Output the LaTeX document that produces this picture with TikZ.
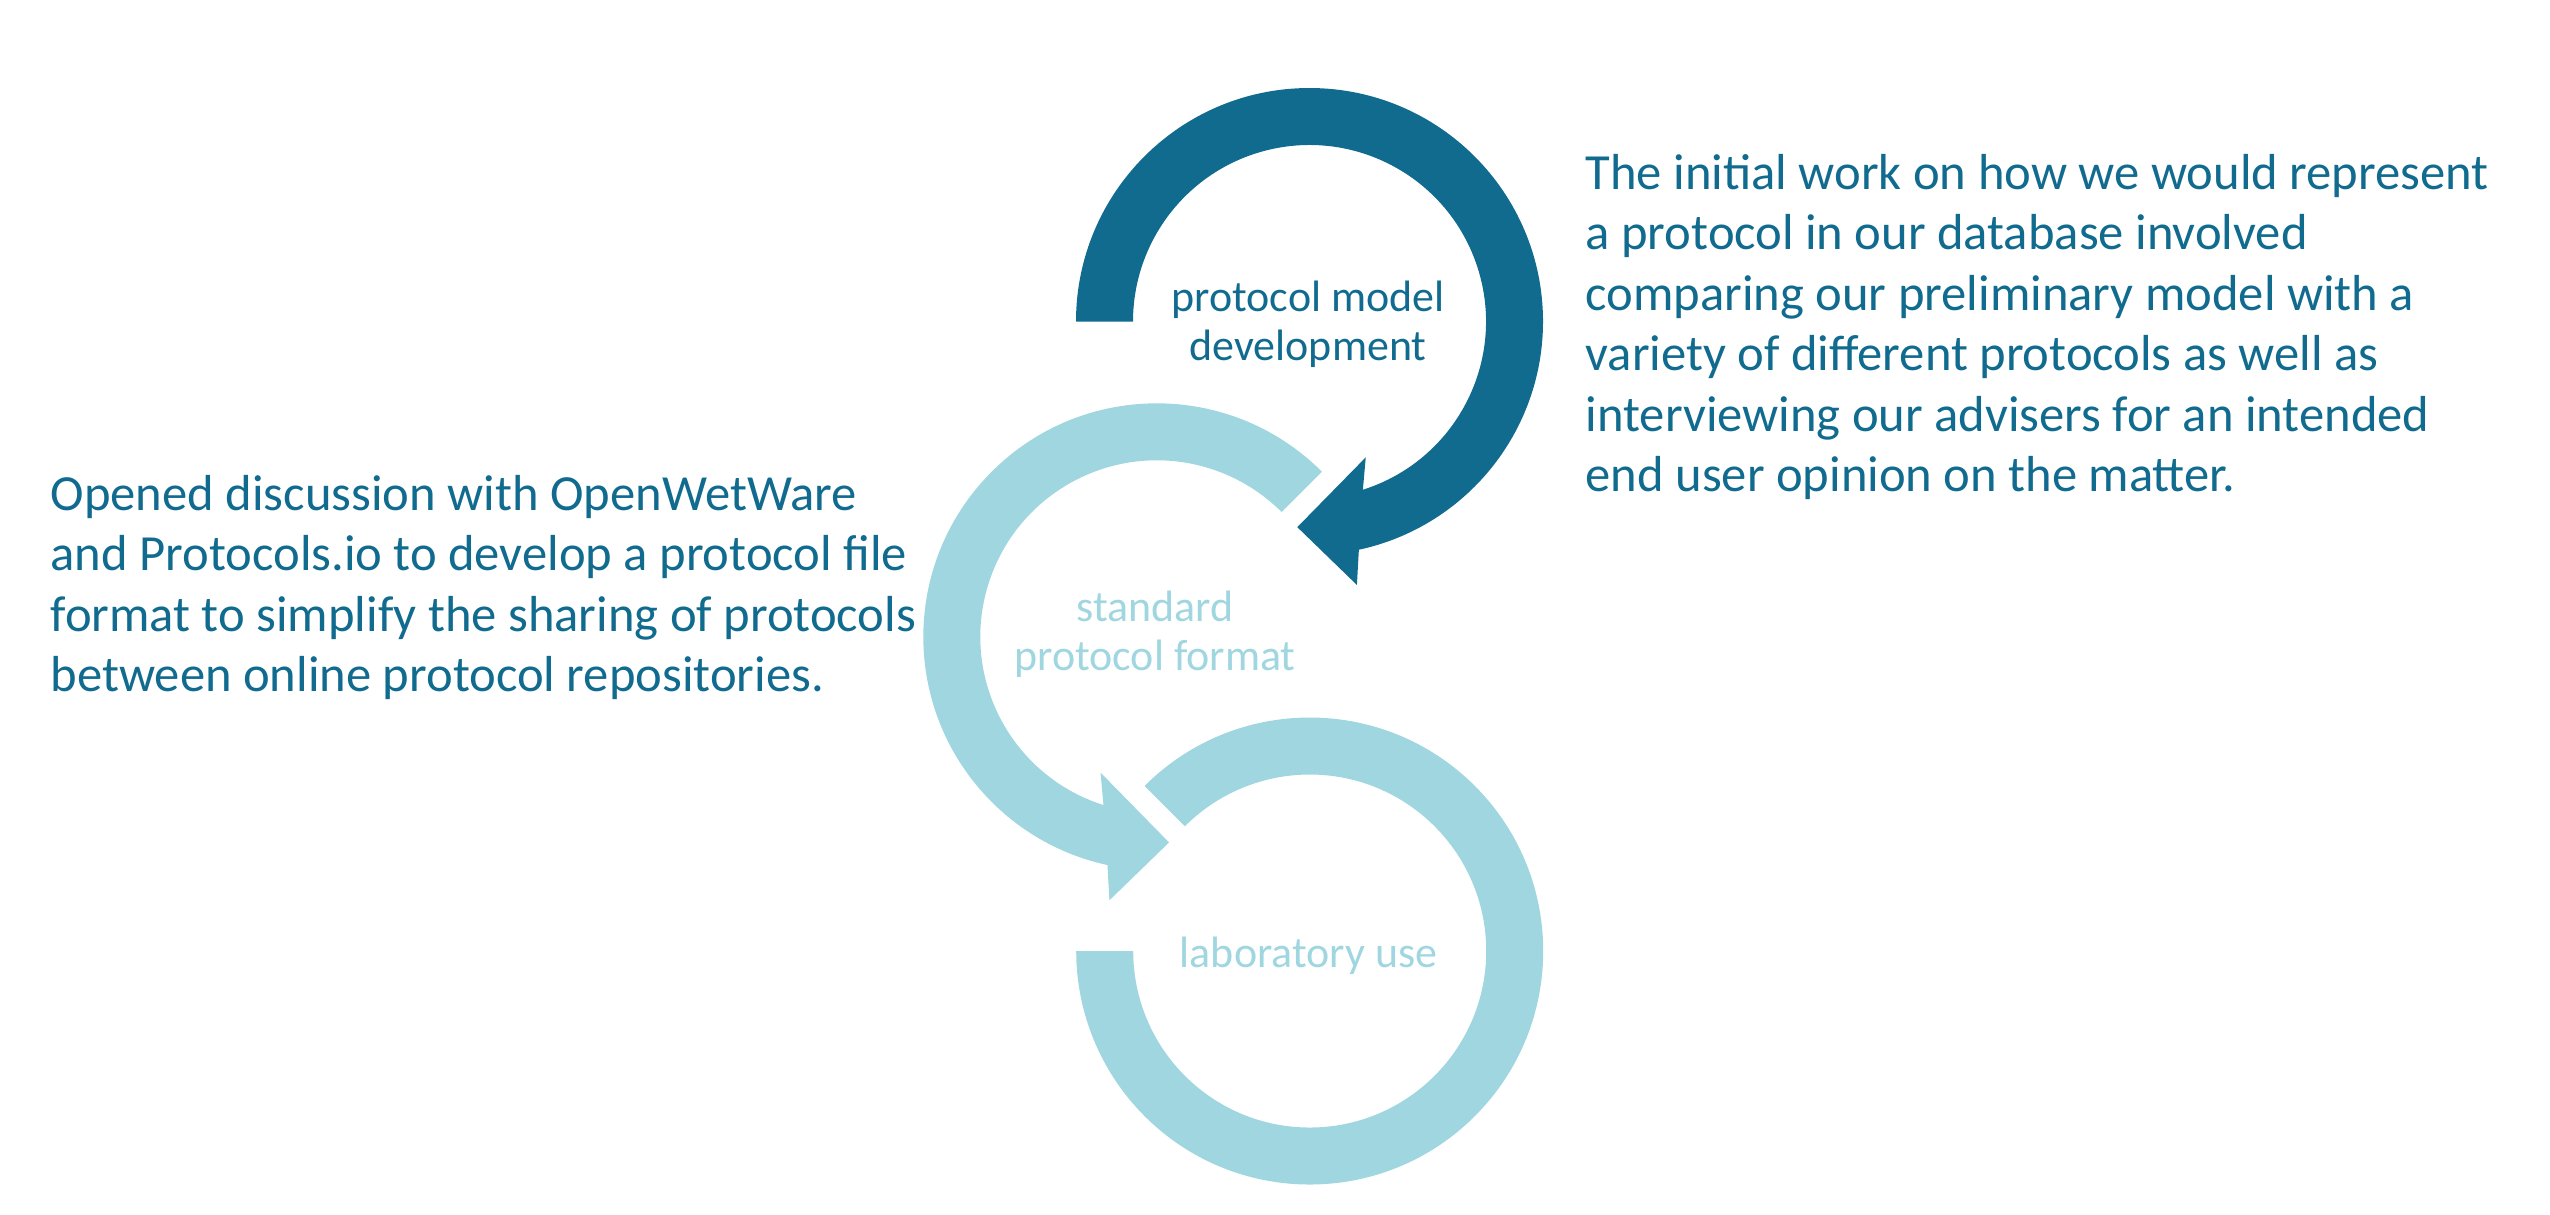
\documentclass[tikz,border=0pt]{standalone}
\usepackage{fontspec}
\setmainfont{Carlito}
\definecolor{blu}{HTML}{106B8F}
\definecolor{azzurro}{HTML}{9FD6DF}
\tikzset{
  nota/.style={text=blu, align=left, inner sep=0pt, anchor=base west, font=\fontsize{14.4}{17.2}\selectfont},
  etichetta/.style={align=center, inner sep=0pt, anchor=base, font=\fontsize{12.5}{13.8}\selectfont},
}
\begin{document}
\begin{tikzpicture}
\useasboundingbox (0,0) rectangle (25.5,-12.14);

\pgfmathsetmacro{\raggioe}{2.335}
\pgfmathsetmacro{\raggioi}{1.765}
\coordinate (dev) at (13.095,-3.215);
\coordinate (std) at (11.568,-6.368);
\coordinate (lab) at (13.097,-9.51);

% freccia scura: sviluppo del modello
\fill[blu, shift={(dev)}] (180:\raggioe) arc[start angle=180, end angle=-77.8, radius=\raggioe]
  -- (-79.8:2.677) -- (-93.4:2.06) -- (-67.5:1.47) -- (-72.4:\raggioi)
  arc[start angle=-72.4, end angle=180, radius=\raggioi] -- cycle;

% freccia chiara: formato standard
\fill[azzurro, shift={(std)}] (45:\raggioe) arc[start angle=45, end angle=257.8, radius=\raggioe]
  -- (259.8:2.677) -- (273.4:2.06) -- (247.5:1.47) -- (252.4:\raggioi)
  arc[start angle=252.4, end angle=45, radius=\raggioi] -- cycle;

% anello chiaro: uso in laboratorio
\fill[azzurro, shift={(lab)}] (135:\raggioe) arc[start angle=135, end angle=-180, radius=\raggioe]
  -- (180:\raggioi) arc[start angle=-180, end angle=135, radius=\raggioi] -- cycle;

% ancora base = ultima riga
\node[etichetta, text=blu] (devtext) at (13.08,-3.60) {protocol model\\development};
\node[etichetta, text=azzurro] (stdtext) at (11.55,-6.70) {standard\\protocol format};
\node[etichetta, text=azzurro] (labtext) at (13.085,-9.677) {laboratory use};

\node[nota] (notadx) at (15.85,-4.917) {The initial work on how we would represent\\a protocol in our database involved\\comparing our preliminary model with a\\variety of different protocols as well as\\interviewing our advisers for an intended\\end user opinion on the matter.};
\node[nota] (notasx) at (0.5,-6.917) {Opened discussion with OpenWetWare\\and Protocols.io to develop a protocol file\\format to simplify the sharing of protocols\\between online protocol repositories.};

\end{tikzpicture}
\end{document}
